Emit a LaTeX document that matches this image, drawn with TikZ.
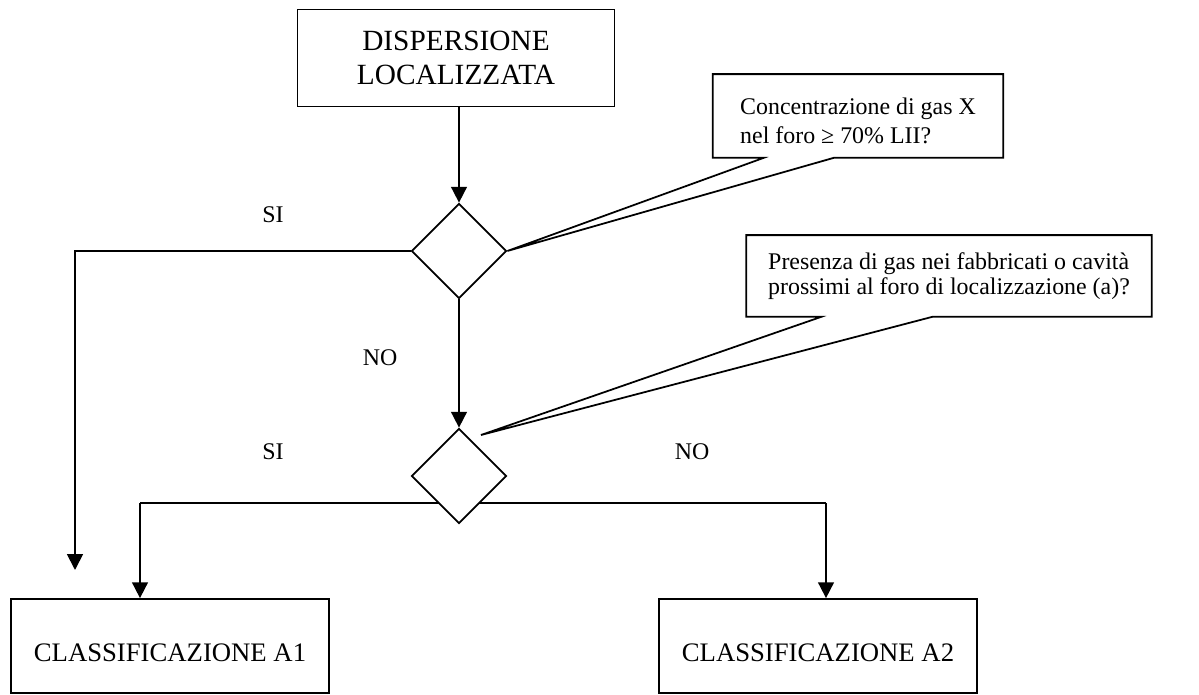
\documentclass[tikz,border=0pt]{standalone}
\usepackage{fontspec}
\setmainfont{Liberation Serif}
\usetikzlibrary{shapes.geometric,arrows.meta,calc}

\begin{document}
\begin{tikzpicture}[x=0.02cm, y=-0.02cm, line width=1pt,
        box/.style={draw, inner sep=0pt, minimum width=6.36cm, minimum height=1.88cm, font=\fontsize{15.2}{18}\selectfont},
        rombo/.style={draw, fill=white, diamond, inner sep=0pt, minimum width=1.9cm, minimum height=1.9cm},
        nota/.style={align=left, inner sep=0pt, font=\fontsize{13.6}{17}\selectfont},
        freccia/.style={-{Triangle[width=9pt,length=9pt]}},
        etich/.style={font=\fontsize{13.6}{16}\selectfont}]
                \useasboundingbox (0,0) rectangle (1199,695);
                \node[box, minimum width=6.34cm, minimum height=1.94cm, align=center,
                    font=\fontsize{16.7}{19.3}\selectfont] (disp) at (456,58) {DISPERSIONE\\LOCALIZZATA};
                \node[rombo] (d1) at (459,251) {};
                \coordinate (jL) at (140,503);
                \coordinate (jR) at (826,503);
                \draw (jL) -- (jR);
                \node[rombo] (d2) at (459,476) {};
                \node[box] (a1) at (170,646) {\rule{0pt}{18pt}CLASSIFICAZIONE A1};
                \node[box] (a2) at (818,646) {\rule{0pt}{18pt}CLASSIFICAZIONE A2};
                \coordinate (siL) at (75,570);
                \draw[freccia] (disp.south -| d1) -- (d1.north);
                \draw[freccia] (d1.west) -| (siL);
                \draw[freccia] (d1.south) -- (d2.north);
                \draw[freccia] (jL) -- (jL |- a1.north);
                \draw[freccia] (jR) -- (jR |- a2.north);
                \node[etich] (si1) at (273,215) {SI};
                \node[etich] (no1) at (380,358) {NO};
                \node[etich] (si2) at (273,452) {SI};
                \node[etich] (no2) at (692,452) {NO};
                \node[nota, minimum width=5.78cm, minimum height=1.64cm] (q1) at (858,116)
                    {\rule{0pt}{15pt}Concentrazione di gas X\\nel foro ≥ 70\% LII?};
                \draw (q1.south west) -- (q1.north west) -- (q1.north east) -- (q1.south east)
                    -- ($(q1.south west)+(121,0)$) -- (d1.east) -- ($(q1.south west)+(51,0)$) -- cycle;
                \coordinate (p2) at (481,435);
                \node[nota, minimum width=8.08cm, minimum height=1.6cm,
                    font=\fontsize{13.6}{14.2}\selectfont] (q2) at (949,276)
                    {Presenza di gas nei fabbricati o cavità\\prossimi al foro di localizzazione (a)?};
                \draw (q2.south west) -- (q2.north west) -- (q2.north east) -- (q2.south east)
                    -- ($(q2.south west)+(186,0)$) -- (p2) -- ($(q2.south west)+(75,0)$) -- cycle;
            \end{tikzpicture}
\end{document}
